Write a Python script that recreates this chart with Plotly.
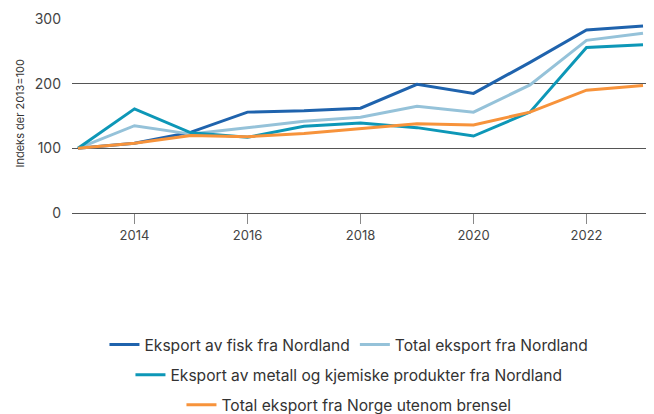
import plotly.graph_objects as go

years = list(range(2013, 2024))
fisk = [100, 108, 125, 156, 158, 162, 199, 185, 233, 283, 289]
total_nordland = [100, 135, 122, 132, 142, 148, 165, 156, 198, 267, 278]
metall = [100, 161, 124, 117, 134, 139, 132, 119, 156, 256, 260]
total_norge = [100, 108, 120, 118, 123, 130, 138, 136, 156, 190, 197]

names = [
    "Eksport av fisk fra Nordland",
    "Total eksport fra Nordland",
    "Eksport av metall og kjemiske produkter fra Nordland",
    "Total eksport fra Norge utenom brensel",
]
colors = ["#1f63ad", "#95c2d9", "#0d97b7", "#f7933b"]
series = [fisk, total_nordland, metall, total_norge]
legends = ["legend", "legend", "legend2", "legend3"]
y_title = "Indeks der 2013=100"

fig = go.Figure()
for n, c, s, lg in zip(names, colors, series, legends):
    fig.add_trace(go.Scatter(x=years, y=s, name=n, mode="lines",
                             line=dict(color=c, width=3), legend=lg))

font = dict(family="Inter, Roboto, sans-serif", size=13, color="#333333")
legend_common = dict(orientation="h", xanchor="center", x=0.48, yanchor="middle",
                     font=dict(family="Inter, Roboto, sans-serif", size=15.6, color="#333333"),
                     bgcolor="rgba(0,0,0,0)", itemwidth=30)

fig.update_layout(
    width=646, height=406,
    margin=dict(l=64, r=5, t=11, b=201, autoexpand=False),
    paper_bgcolor="white", plot_bgcolor="white",
    font=font,
    legend=dict(**legend_common, y=-0.68),
    legend2=dict(**legend_common, y=-0.835),
    legend3=dict(**legend_common, y=-0.99),
    xaxis=dict(range=[2012.894, 2023.106], tickvals=[2014, 2016, 2018, 2020, 2022],
               showgrid=False, zeroline=False, ticks="outside", ticklen=10,
               tickcolor="#888888", tickfont=dict(size=13, color="#444444"),
               showline=False, automargin=False),
    yaxis=dict(range=[0, 300], tickvals=[0, 100, 200, 300], showgrid=True,
               gridcolor="#555555", gridwidth=1, zeroline=True, zerolinecolor="#555555",
               zerolinewidth=1, tickfont=dict(size=14, color="#444444"),
               ticklabelstandoff=10, automargin=False),
    annotations=[dict(text=y_title, textangle=-90, xref="paper", yref="paper",
                      x=-0.0901, y=0.513, xanchor="center", yanchor="middle",
                      showarrow=False, font=dict(size=11, color="#333333"))],
)

fig.write_html("out.html")
